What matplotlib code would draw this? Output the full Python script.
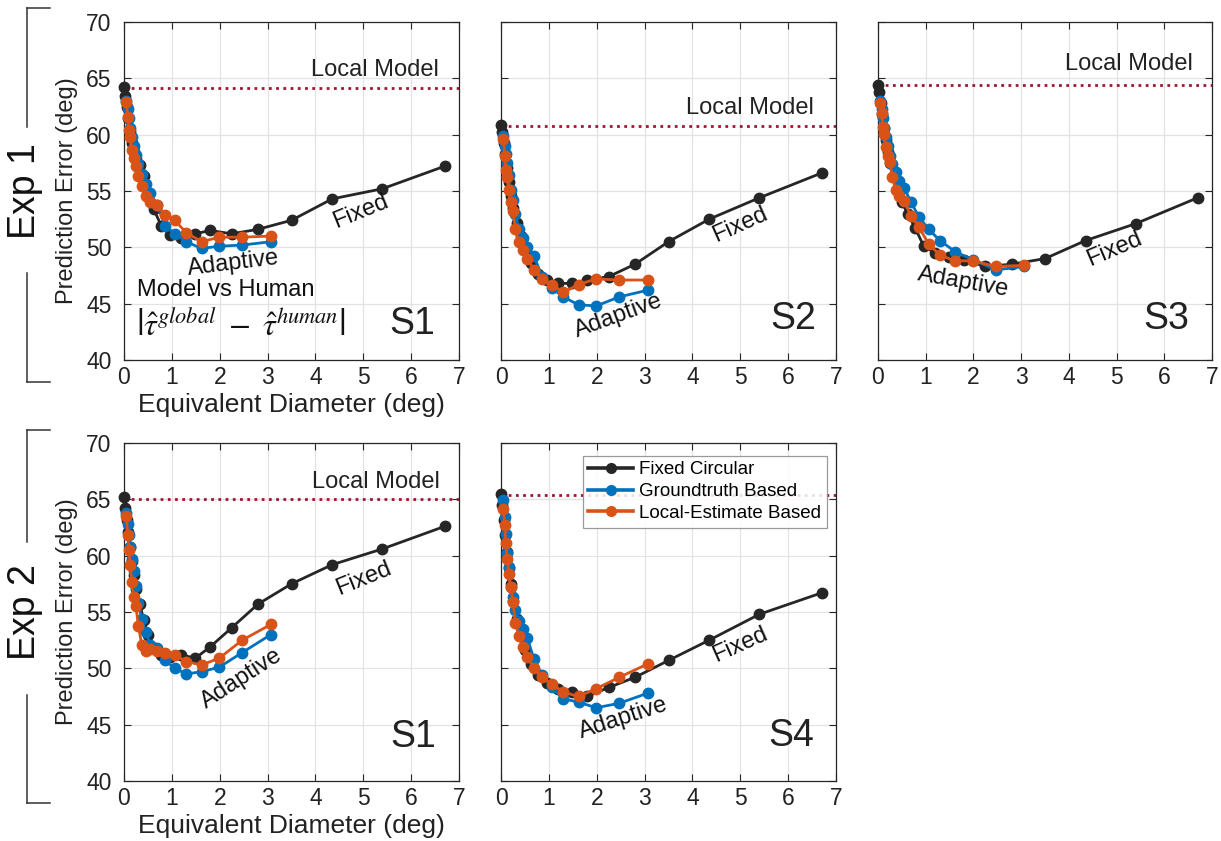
import matplotlib
matplotlib.use("Agg")
import matplotlib.pyplot as plt
from matplotlib.lines import Line2D

plt.rcParams['font.family'] = ['Liberation Sans', 'DejaVu Sans']

# ---------------- data ----------------
fixed_x = [0.0, 0.03, 0.06, 0.09, 0.13, 0.17, 0.21, 0.26, 0.33, 0.41, 0.5, 0.62,
           0.78, 0.96, 1.19, 1.49, 1.8, 2.25, 2.8, 3.5, 4.35, 5.4, 6.7]
adapt_x = [0.05, 0.08, 0.1, 0.13, 0.16, 0.2, 0.25, 0.3, 0.37, 0.45, 0.55, 0.69,
           0.86, 1.06, 1.3, 1.62, 1.99, 2.47, 3.07]

# Exp 1, S1
e1s1_fixed = [64.2, 63.4, 62.5, 61.5, 60.3, 59.3, 58.5, 57.8, 57.3, 56.3, 54.8, 53.4,
              51.9, 51.1, 50.8, 51.2, 51.5, 51.2, 51.6, 52.4, 54.3, 55.2, 57.2]
e1s1_ground = [63.0, 62.3, 61.5, 60.6, 59.8, 59.0, 58.2, 57.4, 56.5, 55.6, 54.8, 53.8,
               51.9, 51.2, 50.5, 49.9, 50.1, 50.2, 50.5]
e1s1_local = [62.9, 61.6, 60.4, 59.8, 58.6, 57.9, 57.2, 56.3, 55.4, 54.6, 54.0, 53.8,
              52.9, 52.4, 51.3, 50.5, 50.9, 50.9, 51.0]
e1s1_localmodel = 64.1

# Exp 1, S2
e1s2_fixed = [60.9, 60.2, 59.3, 58.3, 57.0, 55.8, 54.6, 53.5, 52.2, 51.0, 49.8, 48.6,
              47.6, 47.1, 46.8, 46.8, 47.1, 47.4, 48.5, 50.5, 52.5, 54.4, 56.6]
e1s2_ground = [59.9, 59.0, 58.3, 57.5, 56.4, 55.1, 54.2, 53.0, 51.6, 50.8, 50.0, 49.2,
               47.4, 46.4, 45.6, 44.9, 44.8, 45.6, 46.2]
e1s2_local = [59.6, 58.1, 56.9, 56.2, 55.1, 54.0, 53.2, 51.6, 50.5, 49.8, 49.0, 48.0,
              47.2, 46.7, 46.0, 46.7, 47.2, 47.1, 47.1]
e1s2_localmodel = 60.8

# Exp 1, S3
e1s3_fixed = [64.4, 63.8, 62.8, 61.8, 60.6, 59.5, 58.5, 57.5, 56.3, 55.1, 54.0, 53.0,
              51.7, 50.1, 49.5, 49.1, 48.9, 48.3, 48.5, 49.0, 50.6, 52.1, 54.4]
e1s3_ground = [63.0, 62.3, 61.5, 60.6, 59.8, 59.0, 58.1, 57.4, 56.7, 55.9, 55.3, 54.0,
               52.7, 51.6, 50.6, 49.6, 48.9, 48.0, 48.3]
e1s3_local = [62.8, 61.9, 60.7, 60.1, 58.9, 58.1, 57.6, 56.2, 55.1, 54.6, 54.1, 52.8,
              51.8, 50.3, 49.3, 48.8, 48.8, 48.3, 48.4]
e1s3_localmodel = 64.4

# Exp 2, S1
e2s1_fixed = [65.2, 64.2, 63.2, 62.1, 60.8, 59.5, 58.3, 57.0, 55.7, 54.3, 53.0, 51.8,
              51.2, 51.0, 51.2, 50.9, 51.9, 53.6, 55.7, 57.5, 59.2, 60.6, 62.6]
e2s1_ground = [63.8, 62.8, 61.8, 60.8, 59.7, 58.6, 57.3, 55.8, 54.4, 53.2, 52.1, 51.8,
               50.7, 50.0, 49.5, 49.7, 50.1, 51.4, 53.0]
e2s1_local = [63.5, 61.8, 60.5, 59.2, 57.7, 56.3, 55.5, 53.8, 52.1, 51.5, 51.7, 51.5,
              51.4, 51.2, 50.6, 50.3, 50.9, 52.5, 53.9]
e2s1_localmodel = 65.05

# Exp 2, S4
e2s4_fixed = [65.45, 64.5, 63.2, 61.8, 60.3, 58.9, 57.5, 56.0, 54.4, 52.9, 51.6, 50.4,
              49.4, 48.7, 48.2, 47.9, 47.5, 48.3, 49.2, 50.7, 52.5, 54.8, 56.7]
e2s4_ground = [64.9, 63.4, 61.9, 60.2, 59.0, 57.2, 56.3, 55.2, 54.2, 53.5, 52.7, 50.8,
               49.4, 48.3, 47.3, 47.0, 46.5, 46.9, 47.8]
e2s4_local = [64.1, 62.7, 61.1, 59.7, 58.4, 57.2, 55.9, 54.0, 52.9, 51.9, 51.0, 50.0,
              49.2, 48.6, 47.9, 47.5, 48.2, 49.2, 50.4]
e2s4_localmodel = 65.4

legend_labels = ['Fixed Circular', 'Groundtruth Based', 'Local-Estimate Based']
subject_labels = ['S1', 'S2', 'S3', 'S1', 'S4']
x_ticks = [0, 1, 2, 3, 4, 5, 6, 7]
y_ticks = [40, 45, 50, 55, 60, 65, 70]

# ---------------- style ----------------
C_FIX = '#262626'
C_GT = '#0072BD'
C_LE = '#D95319'
C_LM = '#A2142F'

W, H = 1221, 841
fig = plt.figure(figsize=(W / 100, H / 100), dpi=100)


def px_axes(x0, x1, ytop, ybot):
    return fig.add_axes([x0 / W, 1 - ybot / H, (x1 - x0) / W, (ybot - ytop) / H])


panels = [
    dict(rect=(124, 459, 22, 360), fixed=e1s1_fixed, gt=e1s1_ground, le=e1s1_local,
         lm=e1s1_localmodel, ylab=True,
         lm_txt=(5.25, 65.7), fixed_txt=(4.94, 53.2, 22), adapt_txt=(2.28, 48.6, 7),
         subj=(6.03, 43.2)),
    dict(rect=(501, 836, 22, 360), fixed=e1s2_fixed, gt=e1s2_ground, le=e1s2_local,
         lm=e1s2_localmodel, ylab=False,
         lm_txt=(5.2, 62.4), fixed_txt=(4.99, 52.0, 24), adapt_txt=(2.45, 43.9, 20),
         subj=(6.1, 43.6)),
    dict(rect=(878, 1212, 22, 360), fixed=e1s3_fixed, gt=e1s3_ground, le=e1s3_local,
         lm=e1s3_localmodel, ylab=False,
         lm_txt=(5.26, 66.3), fixed_txt=(4.95, 49.8, 23), adapt_txt=(1.78, 46.9, -10),
         subj=(6.05, 43.6)),
    dict(rect=(124, 459, 443, 781), fixed=e2s1_fixed, gt=e2s1_ground, le=e2s1_local,
         lm=e2s1_localmodel, ylab=True,
         lm_txt=(5.26, 66.5), fixed_txt=(5.0, 58.0, 22), adapt_txt=(2.45, 49.1, 33),
         subj=(6.04, 43.9)),
    dict(rect=(501, 836, 443, 781), fixed=e2s4_fixed, gt=e2s4_ground, le=e2s4_local,
         lm=e2s4_localmodel, ylab=False,
         lm_txt=None, fixed_txt=(4.99, 52.1, 24), adapt_txt=(2.55, 45.6, 18),
         subj=(6.07, 44.0)),
]

for i, p in enumerate(panels):
    ax = px_axes(*p['rect'])
    ax.set_xlim(0, 7)
    ax.set_ylim(40, 70)
    ax.set_xticks(x_ticks)
    ax.set_yticks(y_ticks)
    ax.grid(True, color='#e3e3e3', linewidth=0.9)
    ax.set_axisbelow(True)
    for s in ax.spines.values():
        s.set_color('#262626')
        s.set_linewidth(0.9)
    ax.tick_params(direction='in', top=True, right=True, length=5, width=0.8,
                   labelsize=16.5, colors='#262626', labelcolor='#222222')
    ax.tick_params(axis='y', pad=9)
    ax.tick_params(axis='x', pad=4)
    if not p['ylab']:
        ax.set_yticklabels([])

    ax.axhline(p['lm'], color=C_LM, linestyle=(0, (1, 1.6)), linewidth=2, zorder=2)
    ax.plot(fixed_x, p['fixed'], '-o', color=C_FIX, lw=2, ms=7.5, clip_on=False, zorder=3,
            label=legend_labels[0])
    ax.plot(adapt_x, p['gt'], '-o', color=C_GT, lw=2, ms=7.5, clip_on=False, zorder=4,
            label=legend_labels[1])
    ax.plot(adapt_x, p['le'], '-o', color=C_LE, lw=2, ms=7.5, clip_on=False, zorder=5,
            label=legend_labels[2])

    if p['lm_txt'] is not None:
        ax.text(p['lm_txt'][0], p['lm_txt'][1], 'Local Model', fontsize=17,
                ha='center', va='center', color='#222222')
    fx, fy, fr = p['fixed_txt']
    ax.text(fx, fy, 'Fixed', fontsize=17, ha='center', va='center', rotation=fr,
            rotation_mode='anchor', color='#111111')
    ax_, ay_, ar_ = p['adapt_txt']
    ax.text(ax_, ay_, 'Adaptive', fontsize=17, ha='center', va='center', rotation=ar_,
            rotation_mode='anchor', color='#111111')
    ax.text(p['subj'][0], p['subj'][1], subject_labels[i], fontsize=27,
            ha='center', va='center', color='#222222')

    if i == 0:
        ax.text(0.27, 46.2, 'Model vs Human', fontsize=17, ha='left', va='center',
                color='#111111')
        ax.text(0.25, 42.9,
                r'$\left|\hat{\tau}^{global}\ -\ \hat{\tau}^{human}\right|$',
                fontsize=23, ha='left', va='center', math_fontfamily='stix',
                color='#111111')
    if i == 4:
        leg = ax.legend(loc='upper right', bbox_to_anchor=(0.972, 0.963),
                        borderaxespad=0, fontsize=13.5, frameon=True, fancybox=False,
                        framealpha=0.85, edgecolor='#888888', handlelength=2.4,
                        handletextpad=0.3, labelspacing=0.25, borderpad=0.3)
        leg.get_frame().set_linewidth(0.9)
        for h in leg.get_lines():
            h.set_markersize(7)
            h.set_linewidth(2.6)

# y labels and x labels
for yc in [(22 + 360) / 2, (443 + 781) / 2]:
    fig.text(67 / W, 1 - yc / H, 'Prediction Error (deg)', rotation=90, fontsize=17,
             ha='center', va='center', color='#222222')
for yc in [405, 826]:
    fig.text(291.5 / W, 1 - yc / H, 'Equivalent Diameter (deg)', fontsize=19,
             ha='center', va='center', color='#222222')

# Experiment brackets
def bracket(ytop, ybreak1, ybreak2, ybot, label, ylabc):
    x = 27 / W
    xr = 50 / W
    kw = dict(color='#333333', lw=1.1, transform=fig.transFigure)
    fig.add_artist(Line2D([x, xr], [1 - ytop / H] * 2, **kw))
    fig.add_artist(Line2D([x, x], [1 - ytop / H, 1 - ybreak1 / H], **kw))
    fig.add_artist(Line2D([x, x], [1 - ybreak2 / H, 1 - ybot / H], **kw))
    fig.add_artist(Line2D([x, xr], [1 - ybot / H] * 2, **kw))
    fig.text(25 / W, 1 - ylabc / H, label, rotation=90, fontsize=27, ha='center',
             va='center', color='#111111')

bracket(8, 127, 273, 382, 'Exp 1', 191)
bracket(430, 542, 695, 803, 'Exp 2', 612)

fig.savefig('out.png', dpi=100)
